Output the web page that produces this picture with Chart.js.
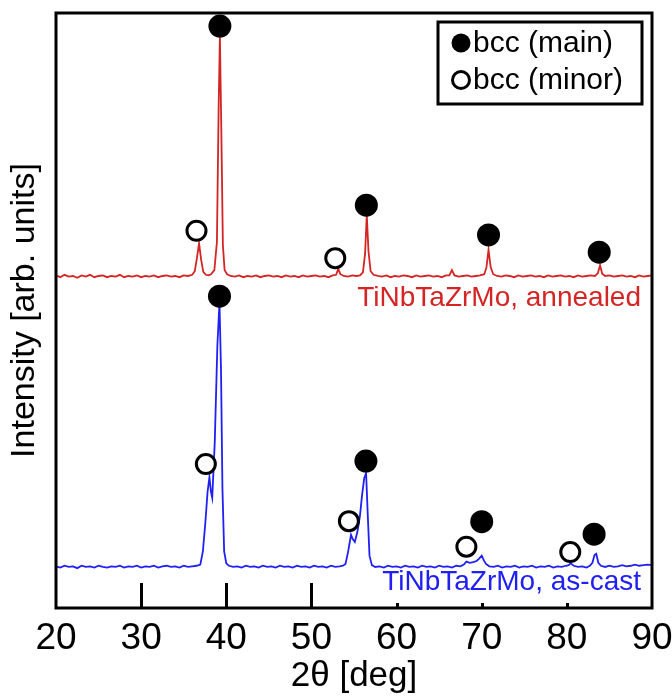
<!DOCTYPE html>
<html>
<head>
<meta charset="utf-8">
<script src="https://cdn.jsdelivr.net/npm/chart.js@4/dist/chart.umd.min.js"></script>
<style>
  html, body { margin: 0; padding: 0; background: #fff; }
  #wrap { width: 672px; height: 697px; }
</style>
</head>
<body>
<div id="wrap"><canvas id="c" width="672" height="697"></canvas></div>
<script>
// XRD: TiNbTaZrMo recocido (arriba) y as-cast (abajo). Intensidad en unidades arbitrarias (0-100).
const RED = '#d42424';
const BLUE = '#2020f4';
const FONT = "'Liberation Sans', Arial, sans-serif";

const xTicks = [20, 30, 40, 50, 60, 70, 80, 90];
const innerTicks = [30, 40, 50, 60, 70, 80];

// [2θ, intensidad]
const annealed = [
  [20.0,55.9],[20.5,55.6],[21.0,56.0],[21.5,55.7],[22.0,55.8],[22.5,55.5],[23.0,55.9],[23.5,55.7],
  [24.0,56.0],[24.5,55.6],[25.0,55.8],[25.5,55.9],[26.0,55.6],[26.5,55.8],[27.0,55.7],[27.5,56.0],
  [28.0,55.6],[28.5,55.8],[29.0,55.7],[29.5,55.9],[30.0,55.6],[30.5,55.8],[31.0,55.7],[31.5,55.9],
  [32.0,55.6],[32.5,55.8],[33.0,55.9],[33.5,55.7],[34.0,55.8],[34.5,55.6],[35.0,55.9],[35.5,55.8],
  [36.0,56.0],[36.3,56.6],[36.55,58.8],[36.8,61.3],[37.05,58.5],[37.3,56.5],[37.6,56.0],[37.9,55.9],
  [38.2,56.1],[38.6,56.8],[38.9,61.5],[39.1,84.0],[39.25,96.0],[39.4,82.0],[39.6,61.0],[39.8,56.8],
  [40.1,56.1],[40.5,55.8],[41.0,55.7],[41.5,55.9],[42.0,55.6],[42.5,55.8],[43.0,55.7],[43.5,55.9],
  [44.0,55.6],[44.5,55.8],[45.0,55.9],[45.5,55.7],[46.0,55.8],[46.5,55.6],[47.0,55.9],[47.5,55.7],
  [48.0,55.8],[48.5,55.6],[49.0,55.9],[49.5,55.7],[50.0,55.8],[50.5,55.9],[51.0,55.7],[51.5,55.8],
  [52.0,55.6],[52.5,55.9],[52.9,56.0],[53.15,57.0],[53.4,56.1],[53.8,55.8],[54.3,55.7],[54.8,55.9],
  [55.3,55.8],[55.7,55.9],[56.05,56.4],[56.3,59.5],[56.5,66.1],[56.7,60.0],[56.95,56.6],[57.3,56.0],
  [57.8,55.8],[58.3,55.7],[58.8,55.9],[59.3,55.6],[59.8,55.8],[60.3,55.7],[60.8,55.9],[61.3,55.8],
  [61.8,55.6],[62.3,55.9],[62.8,55.7],[63.3,55.8],[63.8,55.9],[64.3,55.7],[64.8,55.8],[65.3,55.6],
  [65.8,55.9],[66.2,55.9],[66.5,56.8],[66.8,55.9],[67.3,55.7],[67.8,55.8],[68.3,55.9],[68.8,55.7],
  [69.3,55.8],[69.8,55.9],[70.3,56.1],[70.55,57.2],[70.8,60.2],[71.05,57.3],[71.35,56.1],[71.8,55.8],
  [72.3,55.7],[72.8,55.9],[73.3,55.8],[73.8,55.6],[74.3,55.9],[74.8,55.7],[75.3,55.8],[75.8,55.9],
  [76.3,55.7],[76.8,55.8],[77.3,55.6],[77.8,55.9],[78.3,55.7],[78.8,55.8],[79.3,55.9],[79.8,55.7],
  [80.3,55.8],[80.8,55.6],[81.3,55.9],[81.8,55.7],[82.3,55.8],[82.8,55.9],[83.3,55.8],[83.65,56.3],
  [83.9,57.6],[84.15,56.2],[84.5,55.8],[85.0,55.9],[85.5,55.7],[86.0,55.8],[86.5,55.9],[87.0,55.7],
  [87.5,55.8],[88.0,55.6],[88.5,55.9],[89.0,55.7],[89.5,55.8],[90.0,55.9],
];

const asCast = [
  [20.0,7.0],[20.5,6.8],[21.0,7.1],[21.5,6.9],[22.0,7.0],[22.5,6.7],[23.0,7.1],[23.5,6.9],
  [24.0,7.0],[24.5,6.8],[25.0,7.1],[25.5,6.9],[26.0,6.8],[26.5,7.0],[27.0,6.9],[27.5,7.1],
  [28.0,6.8],[28.5,7.0],[29.0,6.9],[29.5,7.1],[30.0,6.8],[30.5,7.0],[31.0,6.9],[31.5,7.1],
  [32.0,6.8],[32.5,7.0],[33.0,7.1],[33.5,6.9],[34.0,7.0],[34.5,6.8],[35.0,7.1],[35.5,6.9],
  [36.0,7.0],[36.5,7.1],[36.95,7.3],[37.25,9.5],[37.55,14.5],[37.8,19.5],[38.02,22.0],[38.2,19.5],
  [38.35,18.5],[38.65,28.0],[38.95,44.0],[39.2,51.3],[39.38,40.0],[39.55,20.0],[39.75,9.5],[40.0,7.5],
  [40.3,7.1],[40.8,6.9],[41.3,7.0],[41.8,6.8],[42.3,7.1],[42.8,6.9],[43.3,7.0],[43.8,6.8],
  [44.3,7.1],[44.8,6.9],[45.3,7.0],[45.8,6.8],[46.3,7.1],[46.8,6.9],[47.3,7.0],[47.8,6.8],
  [48.3,7.1],[48.8,6.9],[49.3,7.0],[49.8,6.8],[50.3,7.1],[50.8,6.9],[51.3,7.0],[51.8,6.8],
  [52.3,7.1],[52.8,6.9],[53.3,7.0],[53.7,7.1],[54.0,7.4],[54.3,9.4],[54.65,12.3],[54.85,11.6],
  [55.1,11.1],[55.4,12.8],[55.7,15.5],[55.95,19.0],[56.2,21.8],[56.42,22.7],[56.62,15.5],[56.82,8.8],
  [57.1,7.2],[57.5,6.9],[58.0,7.0],[58.5,6.8],[59.0,7.1],[59.5,6.9],[60.0,7.0],[60.5,6.8],
  [61.0,7.1],[61.5,6.9],[62.0,7.0],[62.5,6.8],[63.0,7.1],[63.5,6.9],[64.0,7.0],[64.5,6.8],
  [65.0,7.1],[65.5,6.9],[66.0,7.0],[66.5,6.8],[67.0,7.1],[67.5,7.0],[67.9,7.3],[68.2,7.8],
  [68.6,7.6],[69.0,7.7],[69.4,7.9],[69.7,8.3],[70.0,8.8],[70.25,8.0],[70.5,7.4],[70.9,7.0],
  [71.4,6.9],[71.9,7.1],[72.4,6.8],[72.9,7.0],[73.4,6.9],[73.9,7.1],[74.4,6.8],[74.9,7.0],
  [75.4,6.9],[75.9,7.1],[76.4,6.8],[76.9,7.0],[77.4,6.9],[77.9,7.1],[78.4,6.8],[78.9,7.0],
  [79.4,6.9],[79.9,7.1],[80.2,7.2],[80.45,7.5],[80.8,7.1],[81.3,6.9],[81.8,7.0],[82.3,6.8],
  [82.7,7.1],[83.0,7.6],[83.25,8.9],[83.45,9.1],[83.7,7.6],[84.0,7.1],[84.5,6.9],[85.0,7.1],
  [85.5,6.9],[86.0,7.0],[86.5,7.2],[87.0,7.0],[87.5,7.1],[88.0,7.3],[88.5,7.1],[89.0,7.2],
  [89.5,7.3],[90.0,7.2],
];

// marcadores de fase: bcc principal (relleno) y bcc secundaria (hueco)
const mainPeaks = [
  [39.25,97.8],[56.45,67.7],[70.8,62.7],[83.8,59.8],
  [39.2,52.4],[56.4,24.7],[70.0,14.5],[83.2,12.4],
];
const minorPeaks = [
  [36.5,63.4],[52.8,58.8],
  [37.6,24.2],[54.4,14.6],[68.2,10.3],[80.4,9.4],
];

const legendItems = ['bcc (main)', 'bcc (minor)'];
const sampleLabels = ['TiNbTaZrMo, annealed', 'TiNbTaZrMo, as-cast'];

const pts = arr => arr.map(([x, y]) => ({ x, y }));

// marco, marcas interiores del eje x, rótulos de muestra y leyenda
const decoraciones = {
  id: 'decoraciones',
  afterDatasetsDraw(chart) {
    const { ctx, chartArea: a, scales: { x } } = chart;
    ctx.save();

    // marcas de eje hacia adentro
    ctx.strokeStyle = '#000';
    ctx.lineWidth = 3;
    innerTicks.forEach(t => {
      const px = Math.round(x.getPixelForValue(t)) + 0.5;
      ctx.beginPath();
      ctx.moveTo(px, a.bottom);
      ctx.lineTo(px, a.bottom - 25);
      ctx.stroke();
    });

    // rótulos de muestra
    ctx.font = '28px ' + FONT;
    ctx.textAlign = 'right';
    ctx.textBaseline = 'middle';
    ctx.fillStyle = RED;
    ctx.fillText(sampleLabels[0], a.right - 11, 298);
    const w = ctx.measureText(sampleLabels[1]).width;
    ctx.fillStyle = '#fff';
    ctx.fillRect(a.right - 14 - w, 570, w + 12, 33);
    ctx.fillStyle = BLUE;
    ctx.fillText(sampleLabels[1], a.right - 11, 582);

    // leyenda
    const lx = 438, ly = 22, lw = 204, lh = 82;
    ctx.fillStyle = '#fff';
    ctx.fillRect(lx, ly, lw, lh);
    ctx.lineWidth = 3;
    ctx.strokeRect(lx, ly, lw, lh);
    ctx.fillStyle = '#000';
    ctx.beginPath(); ctx.arc(461, 43, 9.5, 0, Math.PI * 2); ctx.fill();
    ctx.beginPath(); ctx.arc(461, 80, 8.5, 0, Math.PI * 2); ctx.stroke();
    ctx.font = '30px ' + FONT;
    ctx.textAlign = 'left';
    ctx.fillText(legendItems[0], 473, 44);
    ctx.fillText(legendItems[1], 473, 81);

    // marco
    ctx.lineWidth = 3;
    ctx.strokeRect(a.left, a.top, a.right - a.left, a.bottom - a.top);
    ctx.restore();
  },
};

new Chart(document.getElementById('c'), {
  type: 'line',
  data: {
    datasets: [
      { label: sampleLabels[0], data: pts(annealed), borderColor: RED, borderWidth: 1.8,
        pointRadius: 0, tension: 0, order: 2 },
      { label: sampleLabels[1], data: pts(asCast), borderColor: BLUE, borderWidth: 1.8,
        pointRadius: 0, tension: 0, order: 2 },
      { label: legendItems[0], data: pts(mainPeaks), showLine: false, pointRadius: 11.5,
        pointBackgroundColor: '#000', pointBorderColor: '#000', pointBorderWidth: 0, order: 1 },
      { label: legendItems[1], data: pts(minorPeaks), showLine: false, pointRadius: 9.5,
        pointBackgroundColor: '#fff', pointBorderColor: '#000', pointBorderWidth: 3, order: 1 },
    ],
  },
  options: {
    responsive: false, animation: false, events: [],
    layout: { padding: { top: 13, right: 20, left: 0, bottom: 0 } },
    plugins: { legend: { display: false }, tooltip: { enabled: false } },
    scales: {
      x: {
        type: 'linear', min: 20, max: 90,
        afterBuildTicks: s => { s.ticks = xTicks.map(v => ({ value: v })); },
        afterFit: s => { s.height = 89; s.paddingLeft = 0; s.paddingRight = 0; },
        ticks: { color: '#000', font: { family: FONT, size: 37 }, padding: 9, maxRotation: 0 },
        grid: { display: false, drawTicks: false },
        border: { display: false },
        title: { display: true, text: '2θ [deg]', color: '#000', font: { family: FONT, size: 35 },
          padding: { top: 0, bottom: 0 } },
      },
      y: {
        min: 0, max: 100,
        afterFit: s => { s.width = 56; s.paddingTop = 0; s.paddingBottom = 0; },
        ticks: { display: false },
        grid: { display: false, drawTicks: false },
        border: { display: false },
        title: { display: true, text: 'Intensity [arb. units]', color: '#000',
          font: { family: FONT, size: 34 }, padding: { top: 4, bottom: 4 } },
      },
    },
  },
  plugins: [decoraciones],
});
</script>
</body>
</html>
